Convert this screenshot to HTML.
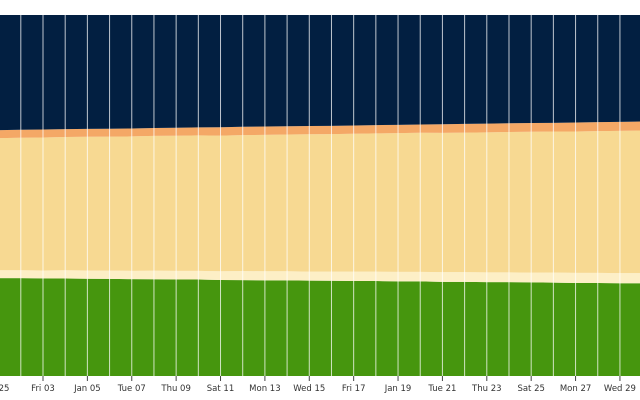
<!DOCTYPE html>
<html><head><meta charset="utf-8"><style>
html,body{margin:0;padding:0;background:#fff;width:640px;height:400px;overflow:hidden}
svg{display:block;font-family:"DejaVu Sans","Liberation Sans",sans-serif}
</style></head><body>
<svg id="chart" width="640" height="400" viewBox="0 0 640 400"></svg>
<script>
const days = [1,2,3,4,5,6,7,8,9,10,11,12,13,14,15,16,17,18,19,20,21,22,23,24,25,26,27,28,29,30,31];
const green = [27.1,27.1,27.0,27.0,26.9,26.9,26.8,26.8,26.7,26.7,26.6,26.6,26.5,26.5,26.4,26.4,26.3,26.3,26.2,26.2,26.1,26.1,26.0,26.0,25.9,25.9,25.8,25.8,25.7,25.7,25.6];
const cream = [2.2,2.2,2.2,2.3,2.3,2.3,2.3,2.4,2.4,2.4,2.4,2.5,2.5,2.5,2.5,2.5,2.6,2.6,2.6,2.6,2.7,2.7,2.7,2.7,2.7,2.8,2.8,2.8,2.8,2.8,2.9];
const yellow = [36.6,36.7,36.8,36.9,37.0,37.1,37.2,37.3,37.4,37.5,37.6,37.7,37.8,37.9,38.0,38.1,38.2,38.3,38.4,38.5,38.6,38.7,38.8,38.9,39.0,39.1,39.2,39.3,39.4,39.5,39.6];
const orange = [2.2,2.2,2.2,2.2,2.2,2.2,2.2,2.2,2.2,2.2,2.3,2.3,2.3,2.3,2.3,2.3,2.3,2.3,2.3,2.3,2.4,2.4,2.4,2.4,2.4,2.4,2.5,2.5,2.5,2.5,2.5];
const navy = [31.9,31.8,31.7,31.6,31.5,31.5,31.4,31.3,31.2,31.1,31.1,31.0,30.9,30.8,30.7,30.7,30.6,30.5,30.4,30.3,30.3,30.2,30.1,30.0,29.9,29.9,29.8,29.7,29.6,29.5,29.4];
const tickDays = [1,3,5,7,9,11,13,15,17,19,21,23,25,27,29];
const tickLabels = ["2025","Fri 03","Jan 05","Tue 07","Thu 09","Sat 11","Mon 13","Wed 15","Fri 17","Jan 19","Tue 21","Thu 23","Sat 25","Mon 27","Wed 29"];

const svg = document.getElementById('chart');
const NS = 'http://www.w3.org/2000/svg';
const top0 = 15, bot0 = 376;
const x = d => 43 + (d - 3) * 22.19;
const y = p => bot0 - p / 100 * (bot0 - top0);

const series = [
  {name:'green-area', vals:green, color:'#46960e'},
  {name:'cream-area', vals:cream, color:'#fdefc6'},
  {name:'yellow-area', vals:yellow, color:'#f7d992'},
  {name:'orange-area', vals:orange, color:'#f4a866'},
  {name:'navy-area', vals:navy, color:'#021f41'}
];
const totals = days.map((d,i) => series.reduce((s,se) => s + se.vals[i], 0));
let base = days.map(() => 0);
series.forEach(se => {
  const topv = days.map((d,i) => base[i] + se.vals[i] / totals[i] * 100);
  let dstr = days.map((d,i) => (i ? 'L' : 'M') + x(d).toFixed(2) + ',' + y(topv[i]).toFixed(2)).join('');
  for (let i = days.length - 1; i >= 0; i--) dstr += 'L' + x(days[i]).toFixed(2) + ',' + y(base[i]).toFixed(2);
  const p = document.createElementNS(NS, 'path');
  p.setAttribute('d', dstr + 'Z');
  p.setAttribute('fill', se.color);
  
  
  svg.appendChild(p);
  base = topv;
});
days.forEach(d => {
  const l = document.createElementNS(NS, 'line');
  l.setAttribute('x1', x(d)); l.setAttribute('x2', x(d));
  l.setAttribute('y1', top0); l.setAttribute('y2', bot0);
  l.setAttribute('stroke', '#ffffff'); l.setAttribute('stroke-opacity', '0.75'); l.setAttribute('stroke-width', '1');
  
  
  svg.appendChild(l);
});
tickDays.forEach((d,i) => {
  const t = document.createElementNS(NS, 'line');
  t.setAttribute('x1', x(d)); t.setAttribute('x2', x(d));
  t.setAttribute('y1', bot0); t.setAttribute('y2', bot0 + 5);
  t.setAttribute('stroke', '#444');
  
  
  svg.appendChild(t);
  const tx = document.createElementNS(NS, 'text');
  tx.setAttribute('x', x(d)); tx.setAttribute('y', 391);
  tx.setAttribute('text-anchor', 'middle'); tx.setAttribute('font-size', '8.5');
  tx.setAttribute('fill', '#333');
  tx.textContent = tickLabels[i];
  
  
  svg.appendChild(tx);
});
</script>
</body></html>
